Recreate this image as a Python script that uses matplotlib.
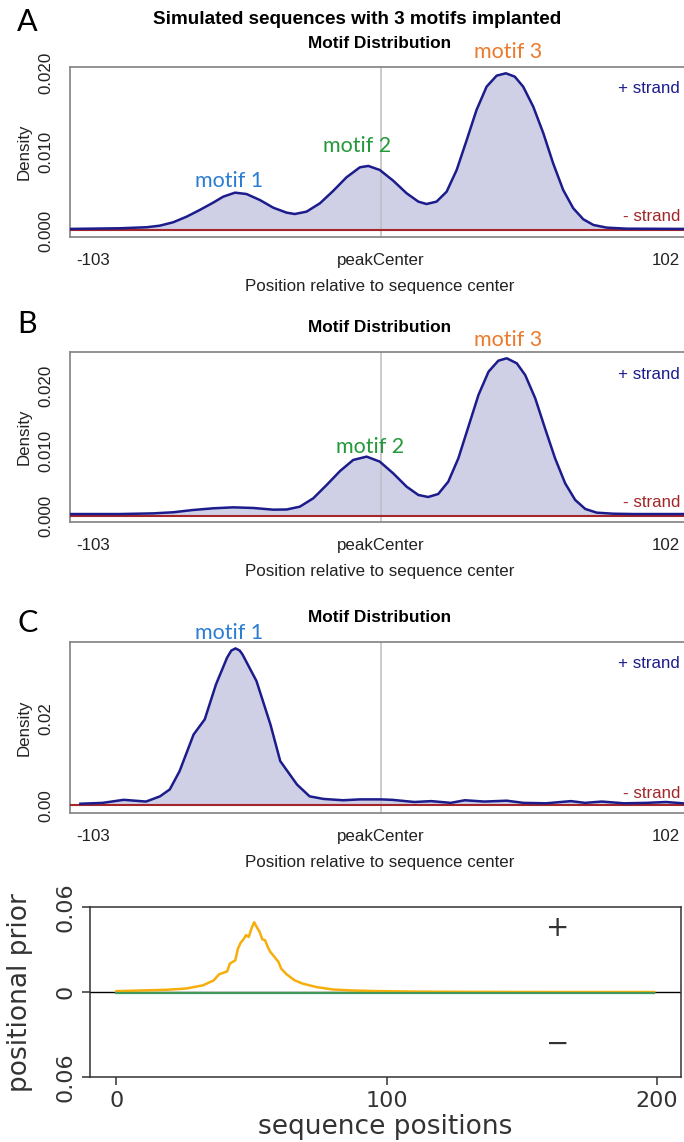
import matplotlib
matplotlib.use("Agg")
import matplotlib.pyplot as plt

# ---------------- data ----------------
# Panel A: + strand density (position relative to sequence center)
A_pos = [-111, -93.4, -83.8, -79.1, -74.3, -69.5, -64.8, -60.0, -56.4, -52.2, -48.1, -43.3, -38.5, -33.7, -30.8, -26.6,
         -21.8, -17.1, -12.3, -7.5, -4.5, -0.4, 4.4, 9.2, 13.4, 16.3, 19.9, 23.5, 27.1, 30.7, 34.2, 37.8, 41.4, 44.7,
         47.9, 50.9, 54.5, 58.1, 61.6, 65.2, 68.8, 72.4, 76.0, 80.8, 87.9, 108]
A_dens = [0.0002, 0.00028, 0.00041, 0.00061, 0.00104, 0.00175, 0.0026, 0.00353, 0.00429, 0.0048, 0.00463, 0.00387,
          0.00289, 0.00226, 0.00209, 0.00239, 0.00345, 0.00501, 0.00675, 0.00802, 0.00819, 0.00768, 0.00632, 0.00472,
          0.00366, 0.00336, 0.00366, 0.00492, 0.00768, 0.01149, 0.01529, 0.01825, 0.01965, 0.01995, 0.01952, 0.01825,
          0.01571, 0.01234, 0.00853, 0.00514, 0.00282, 0.00142, 0.0007, 0.00036, 0.00023, 0.0002]

# Panel B
B_pos = [-111, -93.4, -81.5, -74.3, -67.2, -60.0, -52.8, -45.6, -38.5, -33.7, -29.0, -24.2, -19.4, -14.6, -9.9, -5.1,
         -0.4, 4.4, 9.2, 13.4, 16.9, 20.5, 24.1, 27.7, 31.3, 34.9, 38.5, 42.0, 45.0, 48.6, 51.6, 55.2, 58.7, 62.3, 65.9,
         69.5, 73.1, 77.2, 83.2, 90.3, 108]
B_dens = [0.0003, 0.0003, 0.0004, 0.00057, 0.00092, 0.00118, 0.00133, 0.00123, 0.00097, 0.0010, 0.00143, 0.00272,
          0.00477, 0.00692, 0.00862, 0.00913, 0.00836, 0.00656, 0.00451, 0.00323, 0.00292, 0.00338, 0.00528, 0.00887,
          0.01374, 0.01862, 0.0222, 0.02389, 0.02426, 0.02349, 0.02169, 0.01811, 0.01349, 0.00887, 0.00503, 0.00246,
          0.00108, 0.00051, 0.00035, 0.0003, 0.0003]

# Panel C
C_pos = [-107.5, -99.5, -92, -84, -79, -75.5, -72, -67, -63, -59, -55, -53.5, -52, -50.5, -49.5, -44.5, -39.5, -36, -30,
         -25.5, -20.5, -13.5, -7.5, 0, 4, 12, 18, 25, 30, 37, 45, 51, 59, 68, 73, 79, 87, 95, 102, 108]
C_dens = [0.0004, 0.0006, 0.0013, 0.0009, 0.0021, 0.0037, 0.0079, 0.0163, 0.0198, 0.0278, 0.0340, 0.0356, 0.0361, 0.0356,
          0.0347, 0.0286, 0.0186, 0.0102, 0.0048, 0.0021, 0.0015, 0.0012, 0.0014, 0.0014, 0.0013, 0.0008, 0.0010, 0.0006,
          0.0012, 0.0009, 0.0011, 0.0006, 0.0005, 0.0010, 0.0006, 0.0009, 0.0005, 0.0006, 0.0008, 0.0005]

MINUS_DENSITY = 0.0  # - strand density (flat)

# Panel D: positional prior
D_pos = [0, 19, 26, 32, 36, 38, 41, 42, 44, 45, 46, 47, 48, 49, 50, 51, 52, 53, 54, 55, 56, 57, 58, 60, 61, 63, 66, 69,
         74, 80, 87, 95, 110, 130, 160, 199]
D_plus = [0.0007, 0.0017, 0.0026, 0.0048, 0.0083, 0.0126, 0.0147, 0.0202, 0.0225, 0.0309, 0.0349, 0.0373, 0.0403, 0.0391,
          0.0451, 0.0494, 0.0458, 0.0427, 0.0373, 0.0368, 0.0320, 0.0284, 0.0261, 0.0213, 0.0166, 0.0126, 0.0083, 0.0060,
          0.0036, 0.0019, 0.0012, 0.0008, 0.0004, 0.0002, 0.0001, 0.0001]
D_minus_pos = [0, 199]
D_minus = [-0.0003, -0.0003]

R_XTICKS = [-103, 0, 102]
R_XTICKLABELS = ["-103", "peakCenter", "102"]

# ---------------- styling ----------------
W, H = 684, 1142
R_FONT = ["Liberation Sans", "DejaVu Sans"]
CAL_FONT = ["Lato", "DejaVu Sans"]
NAVY = "#1c1c8c"
FILL = "#cfd0e6"
DARKRED = "#a3262a"
RFS = 12.2

fig = plt.figure(figsize=(W / 100, H / 100), dpi=100)


def frect(left, top, right, bottom):
    return [left / W, 1 - bottom / H, (right - left) / W, (bottom - top) / H]


def r_panel(rect, pos, dens, ylim, yticks, yticklabels, ylabel_frac):
    ax = fig.add_axes(rect)
    ax.set_xlim(-111.2, 110.2)
    ax.set_ylim(*ylim)
    ax.fill_between(pos, 0, dens, color=FILL, lw=0, zorder=1)
    ax.axvline(0, color="#bdbdbd", lw=1.1, zorder=2)
    ax.axhline(MINUS_DENSITY, color=DARKRED, lw=1.5, zorder=3)
    ax.plot(pos, dens, color=NAVY, lw=1.8, zorder=4, solid_joinstyle="round")
    for s in ax.spines.values():
        s.set_color("#8a8a8a")
        s.set_linewidth(1.3)
    ax.set_xticks(R_XTICKS)
    ax.set_xticklabels(R_XTICKLABELS, family=R_FONT, fontsize=RFS)
    ax.set_yticks(yticks)
    ax.set_yticklabels(yticklabels, family=R_FONT, fontsize=RFS, rotation=90, va="center")
    ax.tick_params(axis="x", length=0, pad=12, colors="#222222")
    ax.tick_params(axis="y", length=0, pad=12, colors="#222222")
    ax.set_xlabel("Position relative to sequence center", family=R_FONT, fontsize=RFS, labelpad=8, color="#222222")
    ax.set_ylabel("Density", family=R_FONT, fontsize=RFS, labelpad=5, color="#222222")
    ax.text(0.9855, ylabel_frac[0], "+ strand", transform=ax.transAxes, ha="right", va="center",
            family=R_FONT, fontsize=RFS, color=NAVY)
    ax.text(0.9855, ylabel_frac[1], "- strand", transform=ax.transAxes, ha="right", va="center",
            family=R_FONT, fontsize=RFS, color=DARKRED)
    return ax


def ftext(x, y, s, **kw):
    fig.text(x / W, 1 - y / H, s, ha="center", va="center", **kw)


# Panel A
r_panel(frect(70, 67.3, 689, 236.7), A_pos, A_dens, (-0.00079, 0.02071),
        [0, 0.01, 0.02], ["0.000", "0.010", "0.020"], (0.876, 0.118))
# Panel B
r_panel(frect(70, 352.3, 689, 521.7), B_pos, B_dens, (-0.00088, 0.02518),
        [0, 0.01, 0.02], ["0.000", "0.010", "0.020"], (0.870, 0.115))
# Panel C
r_panel(frect(70, 642.3, 689, 812.7), C_pos, C_dens, (-0.00166, 0.0375),
        [0, 0.02], ["0.00", "0.02"], (0.873, 0.114))

# titles
ftext(357, 20, "Simulated sequences with 3 motifs implanted", family=R_FONT, fontsize=13.6, weight="bold")
for yy in (43, 328, 618):
    ftext(380, yy, "Motif Distribution", family=R_FONT, fontsize=12.4, weight="bold")

# panel letters
for lab, yy in (("A", 22), ("B", 324), ("C", 623)):
    ftext(27.5, yy, lab, family=CAL_FONT, fontsize=22)

# motif labels
BLUE_M, GREEN_M, ORANGE_M = "#2a7dd1", "#23993a", "#ec7a2c"
ftext(229.5, 181, "motif 1", family=CAL_FONT, fontsize=15.5, color=BLUE_M)
ftext(357, 146, "motif 2", family=CAL_FONT, fontsize=15.5, color=GREEN_M)
ftext(508, 52, "motif 3", family=CAL_FONT, fontsize=15.5, color=ORANGE_M)
ftext(370, 447, "motif 2", family=CAL_FONT, fontsize=15.5, color=GREEN_M)
ftext(508, 340, "motif 3", family=CAL_FONT, fontsize=15.5, color=ORANGE_M)
ftext(229.5, 633, "motif 1", family=CAL_FONT, fontsize=15.5, color=BLUE_M)

# Panel D
axd = fig.add_axes(frect(89.5, 907.3, 681, 1077))
axd.set_xlim(-9.95, 208.95)
axd.set_ylim(-0.06, 0.06)
axd.axhline(0, color="black", lw=1.0, zorder=2)
axd.plot(D_pos, D_plus, color="#f7ad0a", lw=1.8, zorder=3)
axd.plot(D_minus_pos, D_minus, color="#3f9a5c", lw=1.6, zorder=4)
for s in axd.spines.values():
    s.set_color("#333333")
    s.set_linewidth(1.1)
axd.set_xticks([0, 100, 200])
axd.set_xticklabels(["0", "100", "200"], fontsize=16)
axd.set_yticks([-0.06, 0, 0.06])
axd.set_yticklabels(["0.06", "0", "0.06"], fontsize=16, rotation=90, va="center")
axd.tick_params(length=6, width=1.1, colors="#333333", labelcolor="#333333", pad=4)
axd.tick_params(top=False, right=False)
axd.set_xlabel("sequence positions", fontsize=19, color="#333333", labelpad=2)
axd.set_ylabel("positional prior", fontsize=19, color="#333333", labelpad=16)
axd.text(0.792, 0.878, "+", transform=axd.transAxes, ha="center", va="center", fontsize=20, color="#333333")
axd.text(0.792, 0.194, "\u2212", transform=axd.transAxes, ha="center", va="center", fontsize=20, color="#333333")

fig.savefig("out.png", dpi=100)
